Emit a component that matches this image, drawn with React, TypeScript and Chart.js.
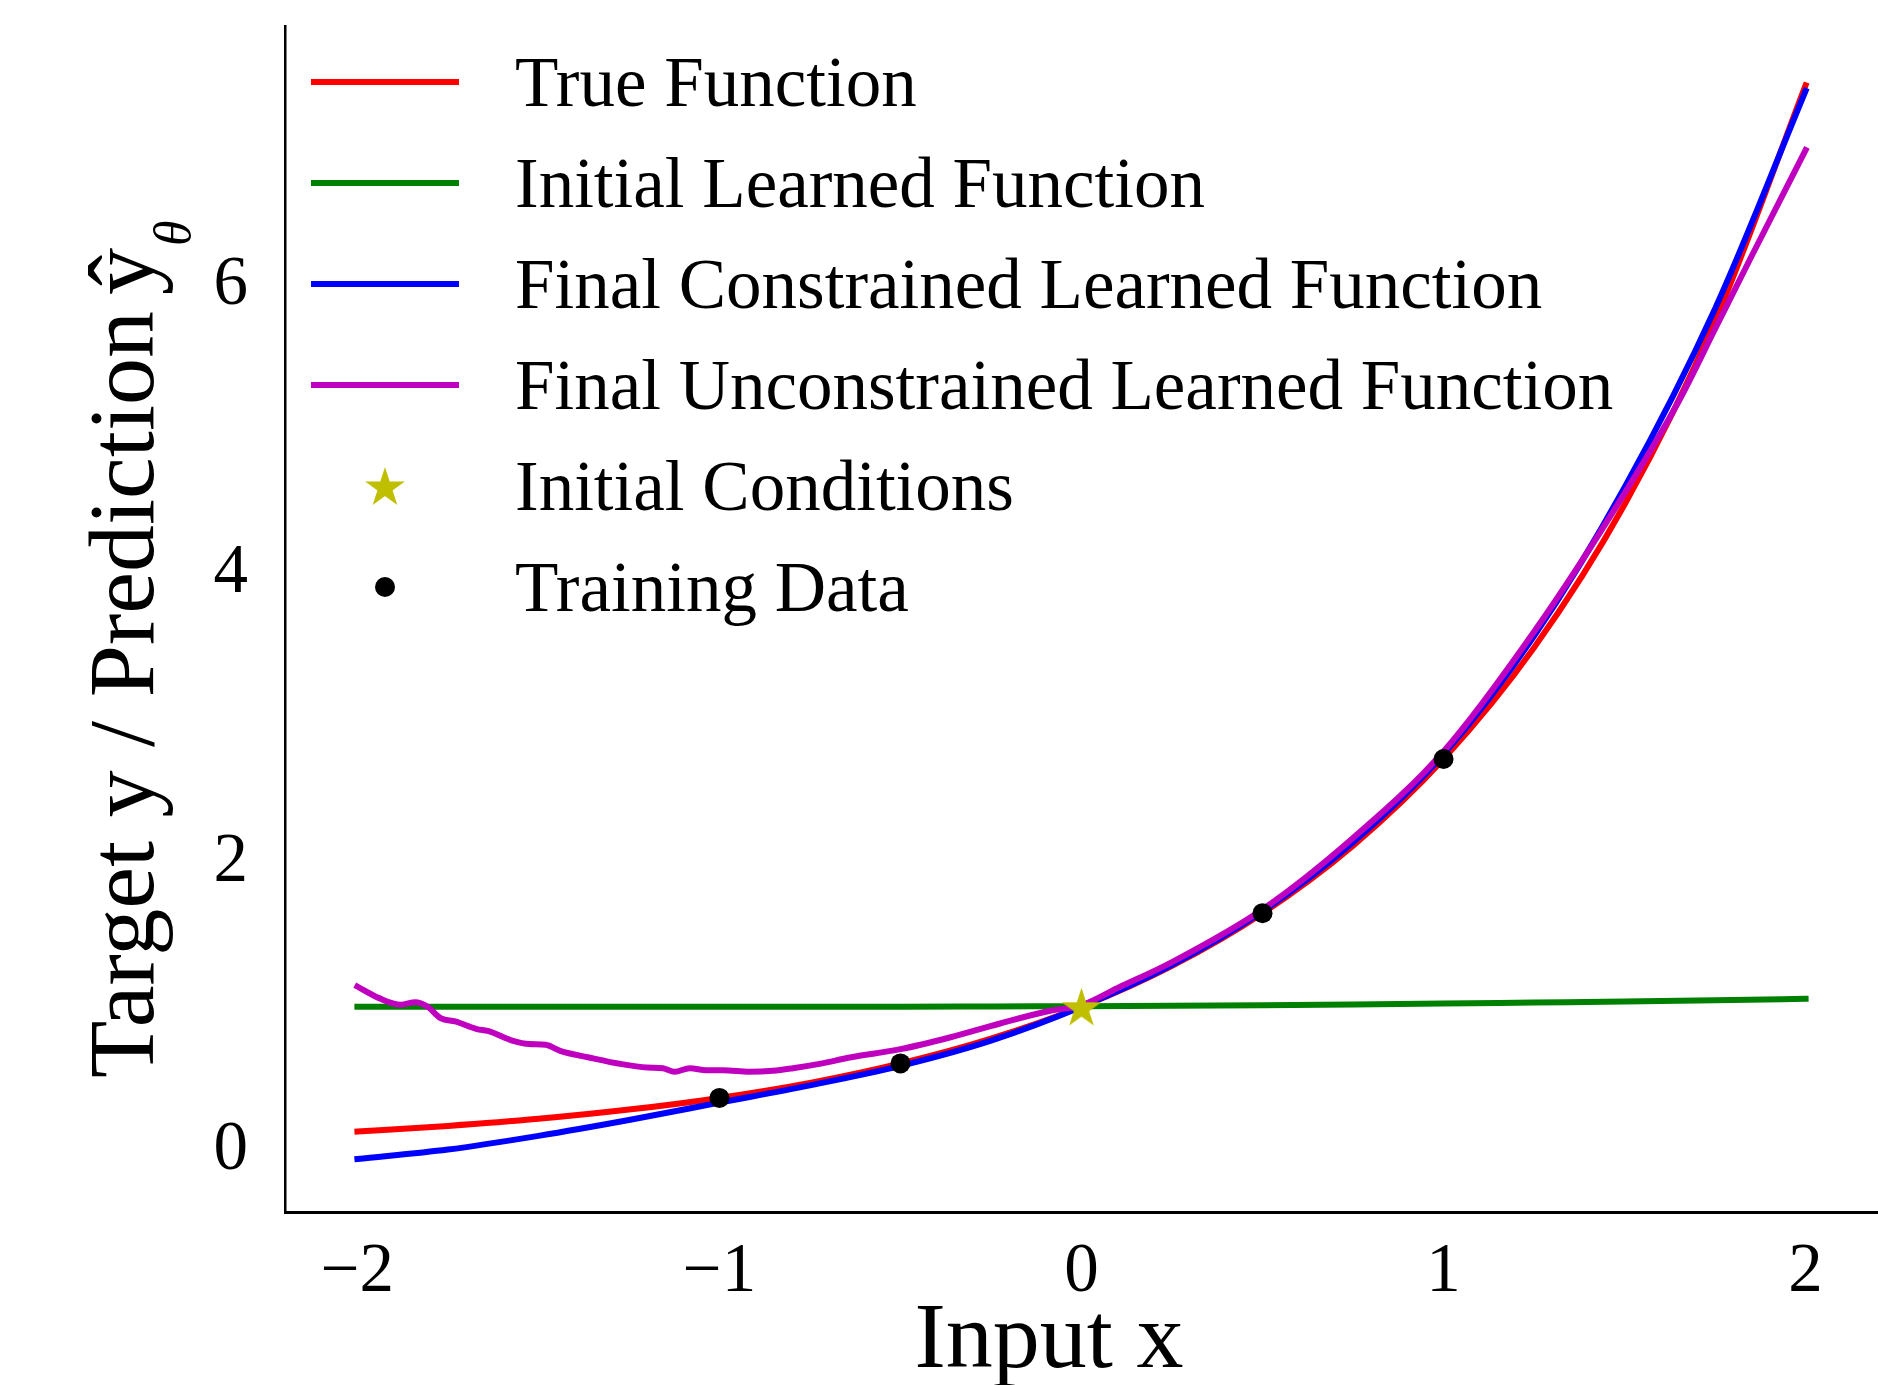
import React, { useEffect, useRef } from "react";
import { Chart, registerables } from "chart.js";

Chart.register(...registerables);

// ---------------- data ----------------
const X_GRID = [-2, -1.75, -1.5, -1.25, -1, -0.75, -0.5, -0.25, 0, 0.25, 0.5, 0.75, 1, 1.25, 1.5, 1.75, 2];

const TRUE_Y = [0.135, 0.174, 0.223, 0.287, 0.368, 0.472, 0.607, 0.779, 1.0, 1.284, 1.649, 2.117, 2.718, 3.49, 4.482, 5.755, 7.389];

const INITIAL_Y = [1.0, 1.0, 1.0, 1.0, 1.0, 1.0, 1.0, 1.002, 1.004, 1.007, 1.011, 1.016, 1.022, 1.029, 1.036, 1.045, 1.055];

const CONSTRAINED_Y = [-0.055, 0.01, 0.105, 0.215, 0.335, 0.455, 0.59, 0.765, 1.0, 1.29, 1.66, 2.14, 2.75, 3.57, 4.6, 5.84, 7.35];

const UNCON_X = [-2.0, -1.94, -1.88, -1.84, -1.806, -1.77, -1.73, -1.67, -1.64, -1.57, -1.525, -1.48, -1.44, -1.36, -1.27, -1.2, -1.156, -1.124, -1.082, -1.036, -0.99, -0.917, -0.852, -0.797, -0.72, -0.64, -0.5, -0.364, -0.225, -0.087, 0, 0.1, 0.25, 0.5, 0.75, 1.0, 1.25, 1.5, 1.65, 1.75, 1.85, 2.0];
const UNCON_Y = [1.14, 1.06, 1.014, 1.032, 1.0, 0.921, 0.898, 0.845, 0.833, 0.764, 0.741, 0.736, 0.694, 0.648, 0.602, 0.579, 0.574, 0.549, 0.574, 0.56, 0.56, 0.549, 0.556, 0.574, 0.606, 0.648, 0.706, 0.787, 0.884, 0.972, 1.01, 1.13, 1.31, 1.675, 2.17, 2.77, 3.6, 4.56, 5.2, 5.7, 6.2, 6.94];

const IC_X = [0];
const IC_Y = [1.0];

const TRAIN_X = [-1, -0.5, 0.5, 1];
const TRAIN_Y = [0.368, 0.607, 1.649, 2.718];

const X_TICKS = [-2, -1, 0, 1, 2];
const X_TICK_LABELS = ["\u22122", "\u22121", "0", "1", "2"];
const Y_TICKS = [0, 2, 4, 6];
const Y_TICK_LABELS = ["0", "2", "4", "6"];

const LEGEND_LABELS = [
  "True Function",
  "Initial Learned Function",
  "Final Constrained Learned Function",
  "Final Unconstrained Learned Function",
  "Initial Conditions",
  "Training Data",
];
const X_TITLE = "Input x";
const Y_TITLE_MAIN = "Target y / Prediction";
const Y_TITLE_HAT = "\u0177";
const Y_TITLE_SUB = "\u03b8";

// ---------------- styles ----------------
const W = 1878;
const H = 1385;
const SERIF = "'Liberation Serif', 'Times New Roman', serif";
const C_TRUE = "#ff0000";
const C_INIT = "#008000";
const C_CONS = "#0000ff";
const C_UNCON = "#bf00bf";
const C_IC = "#bfbf00";
const C_TRAIN = "#000000";
const LINE_COLORS = [C_TRUE, C_INIT, C_CONS, C_UNCON];
const LW = 6;
const STAR_R = 18.5;

function drawStar(ctx: CanvasRenderingContext2D, cx: number, cy: number, r: number, color: string) {
  const inner = r * 0.381966;
  ctx.beginPath();
  for (let i = 0; i < 10; i++) {
    const ang = -Math.PI / 2 + (i * Math.PI) / 5;
    const rad = i % 2 === 0 ? r : inner;
    const px = cx + rad * Math.cos(ang);
    const py = cy + rad * Math.sin(ang);
    if (i === 0) ctx.moveTo(px, py);
    else ctx.lineTo(px, py);
  }
  ctx.closePath();
  ctx.fillStyle = color;
  ctx.fill();
  ctx.strokeStyle = color;
  ctx.lineWidth = 1.5;
  ctx.lineJoin = "miter";
  ctx.stroke();
}

function makeStarCanvas(r: number, color: string) {
  const size = Math.ceil(r * 2 + 6);
  const c = document.createElement("canvas");
  c.width = size;
  c.height = size;
  const ctx = c.getContext("2d")!;
  drawStar(ctx, size / 2, size / 2 + r * 0.1, r, color);
  return c;
}

const pts = (xs: number[], ys: number[]) => xs.map((x, i) => ({ x, y: ys[i] }));

const decorPlugin = {
  id: "decor",
  afterDraw(chart: any) {
    const ctx: CanvasRenderingContext2D = chart.ctx;
    ctx.save();
    // legend
    const rowY0 = 82;
    const rowGap = 101;
    const lx0 = 311;
    const lx1 = 459;
    const tx = 515;
    LEGEND_LABELS.forEach((label, i) => {
      const y = rowY0 + i * rowGap;
      if (i < 4) {
        ctx.strokeStyle = LINE_COLORS[i];
        ctx.lineWidth = LW;
        ctx.lineCap = "butt";
        ctx.beginPath();
        ctx.moveTo(lx0, y);
        ctx.lineTo(lx1, y);
        ctx.stroke();
      } else if (i === 4) {
        drawStar(ctx, (lx0 + lx1) / 2, y + 2, STAR_R, C_IC);
      } else {
        ctx.beginPath();
        ctx.arc((lx0 + lx1) / 2, y, 10, 0, Math.PI * 2);
        ctx.fillStyle = C_TRAIN;
        ctx.fill();
      }
      ctx.font = `71px ${SERIF}`;
      ctx.fillStyle = "#000";
      ctx.textAlign = "left";
      ctx.textBaseline = "alphabetic";
      ctx.fillText(label, tx, y + 24);
    });

    // x title
    ctx.font = `94px ${SERIF}`;
    ctx.fillStyle = "#000";
    ctx.textAlign = "center";
    ctx.textBaseline = "alphabetic";
    ctx.fillText(X_TITLE, 1049, 1367);

    // y title
    ctx.translate(153, 1078);
    ctx.rotate(-Math.PI / 2);
    ctx.textAlign = "left";
    ctx.font = `94px ${SERIF}`;
    ctx.fillText(Y_TITLE_MAIN, 0, 0);
    const w = ctx.measureText(Y_TITLE_MAIN).width;
    const hatX = w + 16;
    ctx.fillText(Y_TITLE_HAT, hatX, 0);
    const hw = ctx.measureText(Y_TITLE_HAT).width;
    ctx.font = `italic 52px ${SERIF}`;
    ctx.fillText(Y_TITLE_SUB, hatX + hw + 2, 37);
    ctx.restore();
  },
};

export default function App() {
  const ref = useRef<HTMLCanvasElement | null>(null);

  useEffect(() => {
    if (!ref.current) return;
    const star = makeStarCanvas(STAR_R, C_IC);
    const lineBase = {
      pointRadius: 0,
      borderWidth: LW,
      fill: false,
      cubicInterpolationMode: "monotone" as const,
      borderCapStyle: "square" as const,
      borderJoinStyle: "round" as const,
    };
    const chart = new Chart(ref.current, {
      type: "line",
      data: {
        datasets: [
          { ...lineBase, label: LEGEND_LABELS[0], data: pts(X_GRID, TRUE_Y), borderColor: C_TRUE, order: 6 },
          { ...lineBase, label: LEGEND_LABELS[1], data: pts(X_GRID, INITIAL_Y), borderColor: C_INIT, order: 5 },
          { ...lineBase, label: LEGEND_LABELS[2], data: pts(X_GRID, CONSTRAINED_Y), borderColor: C_CONS, order: 4 },
          { ...lineBase, label: LEGEND_LABELS[3], data: pts(UNCON_X, UNCON_Y), borderColor: C_UNCON, order: 3 },
          {
            label: LEGEND_LABELS[4],
            data: pts(IC_X, IC_Y),
            showLine: false,
            pointStyle: star as any,
            pointRadius: STAR_R,
            borderColor: C_IC,
            backgroundColor: C_IC,
            order: 2,
          },
          {
            label: LEGEND_LABELS[5],
            data: pts(TRAIN_X, TRAIN_Y),
            showLine: false,
            pointRadius: 10,
            pointBorderWidth: 0,
            pointBackgroundColor: C_TRAIN,
            borderColor: C_TRAIN,
            backgroundColor: C_TRAIN,
            order: 1,
          },
        ],
      },
      options: {
        responsive: false,
        animation: false,
        devicePixelRatio: 1,
        events: [],
        layout: { autoPadding: false, padding: { top: 26, left: 0, right: 0, bottom: 0 } },
        plugins: { legend: { display: false }, tooltip: { enabled: false } },
        scales: {
          x: {
            type: "linear",
            min: -2.2,
            max: 2.2,
            grid: { display: false },
            border: { display: true, color: "#000", width: 3 },
            ticks: {
              font: { family: SERIF, size: 69 },
              color: "#000",
              padding: 11,
              maxRotation: 0,
              autoSkip: false,
              callback: (v: any) => {
                const i = X_TICKS.indexOf(Number(v));
                return i >= 0 ? X_TICK_LABELS[i] : "";
              },
            },
            afterBuildTicks: (s: any) => {
              s.ticks = X_TICKS.map((value) => ({ value }));
            },
            afterFit: (s: any) => {
              s.height = H - 1212;
              s.paddingLeft = 0;
              s.paddingRight = 0;
            },
          },
          y: {
            type: "linear",
            min: -0.423,
            max: 7.8,
            grid: { display: false },
            border: { display: true, color: "#000", width: 2.5 },
            ticks: {
              font: { family: SERIF, size: 69 },
              color: "#000",
              padding: 29,
              autoSkip: false,
              callback: (v: any) => {
                const i = Y_TICKS.indexOf(Number(v));
                return i >= 0 ? Y_TICK_LABELS[i] : "";
              },
            },
            afterBuildTicks: (s: any) => {
              s.ticks = Y_TICKS.map((value) => ({ value }));
            },
            afterFit: (s: any) => {
              s.width = 285;
              s.paddingTop = 0;
              s.paddingBottom = 0;
            },
          },
        },
      },
      plugins: [decorPlugin],
    });
    return () => chart.destroy();
  }, []);

  return (
    <div style={{ position: "absolute", left: 0, top: 0, width: W, height: H, background: "#fff" }}>
      <canvas ref={ref} width={W} height={H} style={{ display: "block", width: W, height: H }} />
    </div>
  );
}
